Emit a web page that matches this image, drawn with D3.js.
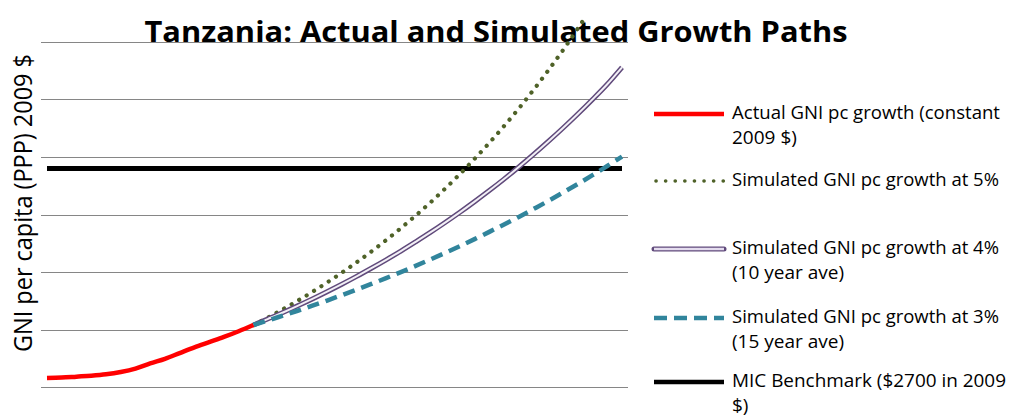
<!DOCTYPE html>
<html>
<head>
<meta charset="utf-8">
<script src="https://cdn.jsdelivr.net/npm/d3@7"></script>
<style>
  body { margin: 0; background: #fff; }
  svg { display: block; font-family: "Open Sans", "Noto Sans", sans-serif; }
</style>
</head>
<body>
<svg width="1010" height="418"></svg>
<script>
(function () {

    // values (GNI per capita, PPP, constant 2009 $)
    var actualYears = d3.range(1995, 2010);
    var actual = [878, 882, 890, 898, 910, 930, 960, 1005, 1045, 1095, 1145, 1190, 1235, 1285, 1339];

    var simYears = d3.range(2009, 2035);
    var sim5 = [1339, 1405, 1476, 1550, 1627, 1709, 1794, 1884, 1978, 2077, 2181, 2290, 2404,
                2525, 2651, 2784, 2923, 3069, 3222, 3384, 3553, 3730, 3917, 4113, 4318, 4534];
    var sim4 = [1339, 1393, 1448, 1506, 1566, 1629, 1694, 1762, 1833, 1906, 1982, 2062, 2144,
                2230, 2319, 2412, 2508, 2608, 2713, 2822, 2935, 3052, 3174, 3301, 3433, 3580];
    var sim3 = [1339, 1379, 1421, 1463, 1507, 1552, 1599, 1647, 1696, 1747, 1799, 1853, 1909,
                1966, 2025, 2086, 2149, 2213, 2279, 2348, 2418, 2491, 2565, 2642, 2722, 2803];

    var benchmarkYears = [1995, 2034];
    var benchmark = 2700;

    var gridValues = [800, 1300, 1800, 2300, 2800, 3300, 3800];

    var legendLabels = [
        ["Actual GNI pc growth (constant", "2009 $)"],
        ["Simulated GNI pc growth at 5%"],
        ["Simulated GNI pc growth at 4%", "(10 year ave)"],
        ["Simulated GNI pc growth at 3%", "(15 year ave)"],
        ["MIC Benchmark ($2700 in 2009", "$)"]
    ];

    var svg = d3.select("svg");

    var x = d3.scaleLinear().domain([1995, 2034]).range([47, 622]);
    var y = d3.scaleLinear().domain([800, 3800]).range([387, 42]);

    // gridlines
    svg.append("g")
        .selectAll("line")
        .data(gridValues)
        .enter().append("line")
        .attr("x1", 41).attr("x2", 628)
        .attr("y1", d => Math.round(y(d)) + 0.5)
        .attr("y2", d => Math.round(y(d)) + 0.5)
        .attr("stroke", "#868686")
        .attr("stroke-width", 1.2);

    // title (series are drawn over it, as in the original)
    svg.append("text")
        .attr("x", 496).attr("y", 42)
        .attr("text-anchor", "middle")
        .attr("font-size", 28).attr("font-weight", "bold")
        .attr("textLength", 703).attr("lengthAdjust", "spacingAndGlyphs")
        .text("Tanzania: Actual and Simulated Growth Paths");

    svg.append("clipPath").attr("id", "plot")
        .append("rect").attr("x", 0).attr("y", 19).attr("width", 1010).attr("height", 380);

    var line = d3.line()
        .x(d => x(d[0]))
        .y(d => y(d[1]))
        .curve(d3.curveMonotoneX);

    var plot = svg.append("g").attr("clip-path", "url(#plot)");

    // benchmark
    plot.append("path")
        .attr("d", line(benchmarkYears.map(yr => [yr, benchmark])))
        .attr("fill", "none").attr("stroke", "#000").attr("stroke-width", 5);

    // 5% dotted
    plot.append("path")
        .attr("d", line(d3.zip(simYears, sim5)))
        .attr("fill", "none").attr("stroke", "#4f6228").attr("stroke-width", 4.2)
        .attr("stroke-linecap", "round").attr("stroke-dasharray", "0.1 8.6");

    // 4% double line
    plot.append("path")
        .attr("d", line(d3.zip(simYears, sim4)))
        .attr("fill", "none").attr("stroke", "#604a7b").attr("stroke-width", 5);
    plot.append("path")
        .attr("d", line(d3.zip(simYears, sim4)))
        .attr("fill", "none").attr("stroke", "#f2eff6").attr("stroke-width", 2);

    // 3% dashed
    plot.append("path")
        .attr("d", line(d3.zip(simYears, sim3)))
        .attr("fill", "none").attr("stroke", "#31859c").attr("stroke-width", 4.5)
        .attr("stroke-dasharray", "12 7");

    // actual
    plot.append("path")
        .attr("d", line(d3.zip(actualYears, actual)))
        .attr("fill", "none").attr("stroke", "#ff0000").attr("stroke-width", 4.5);

    // y axis title
    svg.append("text")
        .attr("transform", "translate(32,203) rotate(-90)")
        .attr("text-anchor", "middle")
        .attr("font-size", 25)
        .attr("textLength", 298).attr("lengthAdjust", "spacingAndGlyphs")
        .text("GNI per capita (PPP) 2009 $");

    // legend
    var legendY = [114, 181, 249, 318, 382];
    var legend = svg.append("g").attr("class", "legend");
    var lx1 = 654, lx2 = 724;

    function sample(i) {
        var g = legend.append("g");
        var yy = legendY[i];
        if (i === 0) {
            g.append("line").attr("stroke", "#ff0000").attr("stroke-width", 4.5);
        } else if (i === 1) {
            g.append("line").attr("stroke", "#4f6228").attr("stroke-width", 3.6)
                .attr("stroke-linecap", "round").attr("stroke-dasharray", "0.1 9.5");
        } else if (i === 2) {
            g.append("line").attr("stroke", "#604a7b").attr("stroke-width", 5).attr("stroke-linecap", "round");
            g.append("line").attr("stroke", "#e4dcee").attr("stroke-width", 2.4);
        } else if (i === 3) {
            g.append("line").attr("stroke", "#31859c").attr("stroke-width", 4.5)
                .attr("stroke-dasharray", "13 7");
        } else {
            g.append("line").attr("stroke", "#000").attr("stroke-width", 4.5);
        }
        g.selectAll("line")
            .attr("x1", lx1 + (i === 1 ? 2 : 0)).attr("x2", lx2)
            .attr("y1", yy).attr("y2", yy);
    }

    var widths = { "Actual GNI pc growth (constant": 268, "Simulated GNI pc growth at 5%": 267,
                   "Simulated GNI pc growth at 4%": 267, "Simulated GNI pc growth at 3%": 267,
                   "MIC Benchmark ($2700 in 2009": 274 };

    legendLabels.forEach(function (lines, i) {
        sample(i);
        lines.forEach(function (t, j) {
            var txt = legend.append("text")
                .attr("x", 732).attr("y", legendY[i] + j * 24.5)
                .attr("dominant-baseline", "middle")
                .attr("font-size", 19)
                .text(t);
            if (widths[t]) txt.attr("textLength", widths[t]).attr("lengthAdjust", "spacingAndGlyphs");
        });
    });

})();
</script>
</body>
</html>
